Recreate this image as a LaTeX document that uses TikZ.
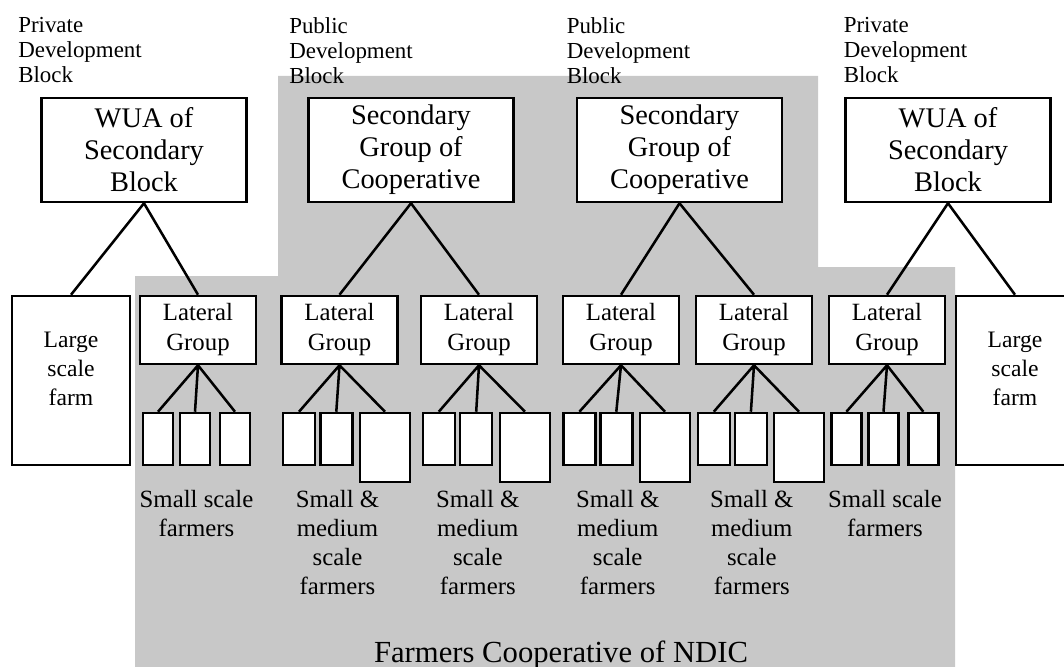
\documentclass[tikz,border=0pt]{standalone}
\usepackage{fontspec}
\setmainfont{Liberation Serif}
\usepackage{tikz}
\usetikzlibrary{positioning}
\definecolor{coopgrey}{RGB}{200,200,200}

\begin{document}
\begin{tikzpicture}[x=0.75pt,y=0.75pt,yscale=-1,xscale=1,
  topbox/.style={draw,fill=white,line width=1.9pt,inner sep=0pt,align=center,
    minimum width=153.75pt,minimum height=78pt,font=\fontsize{21.3}{24}\selectfont},
  latbox/.style={draw,fill=white,line width=1.9pt,inner sep=0pt,align=center,
    minimum width=87pt,minimum height=51pt,font=\fontsize{18.6}{22.5}\selectfont},
  farmbox/.style={draw,fill=white,line width=1.9pt,inner sep=0pt,
    minimum width=88.5pt,minimum height=126.75pt},
  farmtxt/.style={inner sep=0pt,align=center,font=\fontsize{17.7}{21.75}\selectfont},
  lowbox/.style={draw,fill=white,line width=1.9pt,inner sep=0pt,
    minimum width=#1,minimum height=39pt},
  highbox/.style={draw,fill=white,line width=1.9pt,inner sep=0pt,
    minimum width=37.5pt,minimum height=51.75pt},
  blocktxt/.style={anchor=north west,inner sep=0pt,align=left,
    font=\fontsize{17.2}{18.75}\selectfont},
  grouptxt/.style={anchor=north,inner sep=0pt,align=center,
    font=\fontsize{18.6}{21.75}\selectfont},
  link/.style={line width=1.9pt}]
\clip (0,0) rectangle (1064,667);

%Shape: Cooperative area
\fill [coopgrey] (135,667) -- (135,276) -- (278,276) -- (278,76) -- (818,76)
  -- (818,267) -- (955,267) -- (955,667) -- cycle ;

% Text Node
\node [blocktxt] (blkA) at (18,17) {Private\\Development\\Block};
% Text Node
\node [blocktxt] (blkB) at (289,17) {Public\\Development\\Block};
% Text Node
\node [blocktxt] (blkC) at (566.5,17) {Public\\Development\\Block};
% Text Node
\node [blocktxt] (blkD) at (843.5,17) {Private\\Development\\Block};

%Shape: Top boxes
\node [topbox] (wuaL) at (144,150) {WUA of\\Secondary\\Block};
\node [topbox] (secA) at (411,150) {Secondary\\Group of\\Cooperative};
\node [topbox] (secB) at (679.5,150) {Secondary\\Group of\\Cooperative};
\node [topbox] (wuaR) at (948,150) {WUA of\\Secondary\\Block};

%Shape: Large farms
\node [farmbox] (largeL) at (71,380.5) {};
\node [farmtxt] (largeLtxt) at (71,369) {Large\\scale\\farm};
\node [farmbox] (largeR) at (1015,380.5) {};
\node [farmtxt] (largeRtxt) at (1015,369) {Large\\scale\\farm};

%Shape: Lateral groups
\node [latbox] (latA) at (198,330) {Lateral\\Group};
\node [latbox] (latB) at (339.5,330) {Lateral\\Group};
\node [latbox] (latC) at (479,330) {Lateral\\Group};
\node [latbox] (latD) at (621,330) {Lateral\\Group};
\node [latbox] (latE) at (754,330) {Lateral\\Group};
\node [latbox] (latF) at (887,330) {Lateral\\Group};

%Shape: Farmer boxes
\node [lowbox=22.5pt] (fA1) at (158,439) {};
\node [lowbox=22.5pt] (fA2) at (195,439) {};
\node [lowbox=22.5pt] (fA3) at (235,439) {};
\node [lowbox=24pt] (fB1) at (299,439) {};
\node [lowbox=24pt] (fB2) at (336.3,439) {};
\node [highbox] (fB3) at (385,447.5) {};
\node [lowbox=24pt] (fC1) at (438.8,439) {};
\node [lowbox=24pt] (fC2) at (476.2,439) {};
\node [highbox] (fC3) at (525,447.5) {};
\node [lowbox=24pt] (fD1) at (579.4,439) {};
\node [lowbox=24pt] (fD2) at (616.3,439) {};
\node [highbox] (fD3) at (665,447.5) {};
\node [lowbox=24pt] (fE1) at (713.8,439) {};
\node [lowbox=24pt] (fE2) at (750.9,439) {};
\node [highbox] (fE3) at (799,447.5) {};
\node [lowbox=22.5pt] (fF1) at (846.4,439) {};
\node [lowbox=22.5pt] (fF2) at (883.5,439) {};
\node [lowbox=22.5pt] (fF3) at (923.3,439) {};

%Straight Lines
\draw [link] (wuaL.south) -- (largeL.north) ;
\draw [link] (wuaL.south) -- (latA.north) ;
\draw [link] (secA.south) -- (latB.north) ;
\draw [link] (secA.south) -- (latC.north) ;
\draw [link] (secB.south) -- (latD.north) ;
\draw [link] (secB.south) -- (latE.north) ;
\draw [link] (wuaR.south) -- (latF.north) ;
\draw [link] (wuaR.south) -- (largeR.north) ;
%Straight Lines
\draw [link] (latA.south) -- (fA1.north) (latA.south) -- (fA2.north) (latA.south) -- (fA3.north) ;
\draw [link] (latB.south) -- (fB1.north) (latB.south) -- (fB2.north) (latB.south) -- (fB3.north) ;
\draw [link] (latC.south) -- (fC1.north) (latC.south) -- (fC2.north) (latC.south) -- (fC3.north) ;
\draw [link] (latD.south) -- (fD1.north) (latD.south) -- (fD2.north) (latD.south) -- (fD3.north) ;
\draw [link] (latE.south) -- (fE1.north) (latE.south) -- (fE2.north) (latE.south) -- (fE3.north) ;
\draw [link] (latF.south) -- (fF1.north) (latF.south) -- (fF2.north) (latF.south) -- (fF3.north) ;

% Text Node
\node [grouptxt] (smA) at (196.5,490) {Small scale\\farmers};
% Text Node
\node [grouptxt] (smB) at (337.5,490) {Small \&\\medium\\scale\\farmers};
% Text Node
\node [grouptxt] (smC) at (477.8,490) {Small \&\\medium\\scale\\farmers};
% Text Node
\node [grouptxt] (smD) at (617.7,490) {Small \&\\medium\\scale\\farmers};
% Text Node
\node [grouptxt] (smE) at (751.8,490) {Small \&\\medium\\scale\\farmers};
% Text Node
\node [grouptxt] (smF) at (885,490) {Small scale\\farmers};
% Text Node
\node [anchor=base,inner sep=0pt,font=\fontsize{23}{27}\selectfont] (coop) at (561,662) {Farmers Cooperative of NDIC};

\end{tikzpicture}
\end{document}
